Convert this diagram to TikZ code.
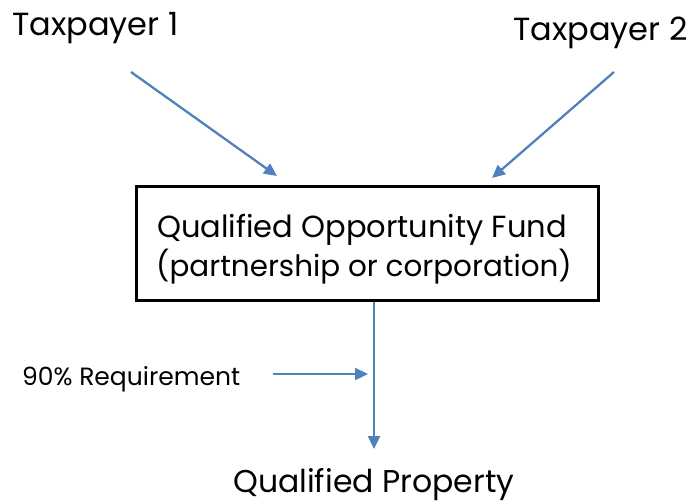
\documentclass[tikz,border=0pt]{standalone}
\usepackage{fontspec}
\setmainfont{Poppins}
\usetikzlibrary{arrows.meta}
\definecolor{arrowblue}{HTML}{4F81BD}
\begin{document}
\begin{tikzpicture}[x=1pt,y=-1pt,
  lbl/.style={inner sep=0pt, anchor=base west, font=\fontsize{32}{38}\selectfont},
  boxtxt/.style={inner sep=0pt, anchor=base west, font=\fontsize{30.5}{36}\selectfont},
  small/.style={inner sep=0pt, anchor=base west, font=\fontsize{25}{30}\selectfont},
  conn/.style={draw=arrowblue, line width=2.3pt, -{Triangle[length=13pt,width=12pt]}},
  fundbox/.style={draw=black, line width=3pt, minimum width=462pt, minimum height=114pt, inner sep=0pt}]
\useasboundingbox (0,0) rectangle (688,501);
\node[lbl] (tp1) at (12,35) {Taxpayer 1};
\node[lbl] (tp2) at (513,40) {Taxpayer 2};
\node[fundbox] (box) at (367,243) {};
\node[boxtxt] (l1) at (157,237) {Qualified Opportunity Fund};
\node[boxtxt, font=\fontsize{29.4}{36}\selectfont] (l2) at (156,276) {(partnership or corporation)};
\node[small] (req) at (22,385) {90\% Requirement};
\node[lbl, font=\fontsize{31.5}{38}\selectfont] (qp) at (233,492) {Qualified Property};
\coordinate (a1s) at (131,72);
\coordinate (a1e) at (277,176);
\coordinate (a2s) at (614,72);
\coordinate (a2e) at (492,178);
\coordinate (vx) at (374,449);
\coordinate (hs) at (273,374);
\coordinate (he) at (368,374);
\draw[conn] (a1s) -- (a1e);
\draw[conn] (a2s) -- (a2e);
\draw[conn] (box.south -| vx) -- (vx);
\draw[conn] (hs) -- (he);
\end{tikzpicture}
\end{document}
